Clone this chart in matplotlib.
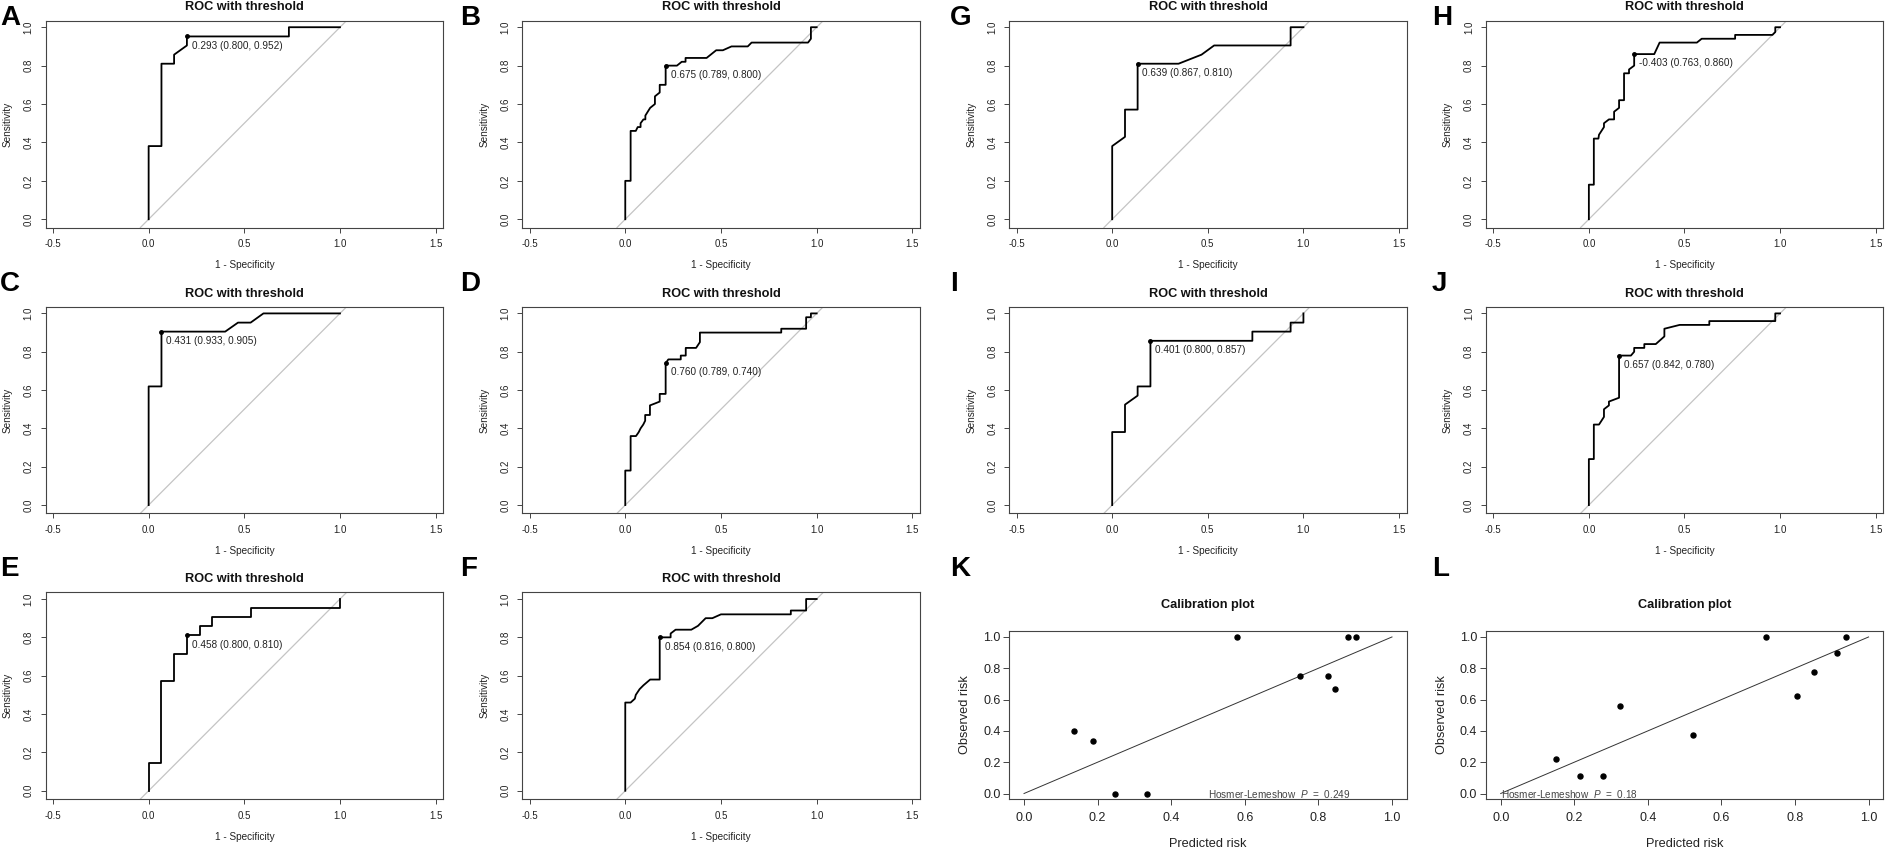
import numpy as np
import matplotlib.pyplot as plt

plt.rcParams['font.family'] = ['Liberation Sans', 'DejaVu Sans']
plt.rcParams['mathtext.fontset'] = 'custom'
plt.rcParams['mathtext.rm'] = 'Liberation Sans'
plt.rcParams['mathtext.it'] = 'Liberation Sans:italic'

# ROC curves: 1 - specificity (x) and sensitivity (y) vertices
fpr_A = [0, 0, 0.067, 0.067, 0.133, 0.133, 0.2, 0.2, 0.733, 0.733, 1.0]
tpr_A = [0, 0.381, 0.381, 0.810, 0.810, 0.857, 0.905, 0.952, 0.952, 1.0, 1.0]

fpr_B = [0, 0, 0.028, 0.028, 0.055, 0.065, 0.08, 0.08, 0.095, 0.105, 0.105, 0.13, 0.155, 0.155,
         0.18, 0.18, 0.211, 0.211, 0.27, 0.295, 0.315, 0.315, 0.425, 0.475, 0.51, 0.555, 0.64,
         0.66, 0.955, 0.97, 0.97, 1.0]
tpr_B = [0, 0.2, 0.2, 0.46, 0.46, 0.48, 0.48, 0.50, 0.52, 0.52, 0.54, 0.58, 0.60, 0.64,
         0.66, 0.70, 0.70, 0.80, 0.80, 0.82, 0.82, 0.84, 0.84, 0.88, 0.88, 0.90, 0.90,
         0.92, 0.92, 0.94, 1.0, 1.0]

fpr_G = [0, 0, 0.067, 0.067, 0.133, 0.133, 0.347, 0.467, 0.533, 0.933, 0.933, 1.0]
tpr_G = [0, 0.381, 0.429, 0.571, 0.571, 0.810, 0.810, 0.857, 0.905, 0.905, 1.0, 1.0]

fpr_H = [0, 0, 0.026, 0.026, 0.05, 0.053, 0.079, 0.079, 0.105, 0.132, 0.132, 0.158, 0.158,
         0.184, 0.184, 0.21, 0.21, 0.237, 0.237, 0.342, 0.37, 0.565, 0.59, 0.765, 0.765,
         0.96, 0.975, 0.975, 1.0]
tpr_H = [0, 0.18, 0.18, 0.42, 0.42, 0.44, 0.48, 0.50, 0.52, 0.52, 0.56, 0.58, 0.62,
         0.62, 0.76, 0.76, 0.78, 0.80, 0.86, 0.86, 0.92, 0.92, 0.94, 0.94, 0.96,
         0.96, 0.975, 1.0, 1.0]

fpr_C = [0, 0, 0.067, 0.067, 0.4, 0.467, 0.533, 0.6, 1.0]
tpr_C = [0, 0.619, 0.619, 0.905, 0.905, 0.952, 0.952, 1.0, 1.0]

fpr_D = [0, 0, 0.028, 0.028, 0.056, 0.07, 0.08, 0.094, 0.104, 0.104, 0.129, 0.129, 0.155,
         0.18, 0.18, 0.211, 0.211, 0.225, 0.29, 0.29, 0.316, 0.316, 0.37, 0.39, 0.39,
         0.815, 0.815, 0.945, 0.945, 0.97, 0.97, 1.0]
tpr_D = [0, 0.18, 0.18, 0.36, 0.36, 0.38, 0.40, 0.42, 0.44, 0.47, 0.47, 0.52, 0.53,
         0.54, 0.58, 0.58, 0.74, 0.76, 0.76, 0.78, 0.78, 0.82, 0.82, 0.85, 0.90,
         0.90, 0.92, 0.92, 0.98, 0.98, 1.0, 1.0]

fpr_I = [0, 0, 0.067, 0.067, 0.133, 0.133, 0.2, 0.2, 0.733, 0.733, 0.933, 0.933, 1.0, 1.0]
tpr_I = [0, 0.381, 0.381, 0.524, 0.571, 0.619, 0.619, 0.857, 0.857, 0.905, 0.905, 0.952, 0.952, 1.0]

fpr_J = [0, 0, 0.026, 0.026, 0.053, 0.079, 0.079, 0.105, 0.105, 0.158, 0.158, 0.22, 0.237,
         0.237, 0.29, 0.29, 0.35, 0.395, 0.395, 0.475, 0.63, 0.63, 0.975, 0.975, 1.0]
tpr_J = [0, 0.24, 0.24, 0.42, 0.42, 0.46, 0.50, 0.52, 0.54, 0.56, 0.78, 0.78, 0.80,
         0.82, 0.82, 0.84, 0.84, 0.88, 0.92, 0.94, 0.94, 0.96, 0.96, 1.0, 1.0]

fpr_E = [0, 0, 0.067, 0.067, 0.133, 0.133, 0.2, 0.2, 0.267, 0.267, 0.333, 0.333, 0.533, 0.533, 1.0, 1.0]
tpr_E = [0, 0.143, 0.143, 0.571, 0.571, 0.714, 0.714, 0.810, 0.810, 0.857, 0.857, 0.905, 0.905, 0.952, 0.952, 1.0]

fpr_F = [0, 0, 0.028, 0.05, 0.055, 0.075, 0.095, 0.13, 0.18, 0.18, 0.237, 0.237, 0.263,
         0.345, 0.38, 0.42, 0.455, 0.5, 0.865, 0.865, 0.945, 0.945, 1.0]
tpr_F = [0, 0.46, 0.46, 0.48, 0.50, 0.53, 0.55, 0.58, 0.58, 0.80, 0.80, 0.82, 0.84,
         0.84, 0.86, 0.90, 0.90, 0.92, 0.92, 0.94, 0.94, 1.0, 1.0]

# best thresholds: (1 - specificity, sensitivity) and label
best_pts = {
    'A': (0.200, 0.952), 'B': (0.211, 0.800), 'G': (0.133, 0.810), 'H': (0.237, 0.860),
    'C': (0.067, 0.905), 'D': (0.211, 0.740), 'I': (0.200, 0.857), 'J': (0.158, 0.780),
    'E': (0.200, 0.810), 'F': (0.184, 0.800),
}
best_labels = {
    'A': '0.293 (0.800, 0.952)', 'B': '0.675 (0.789, 0.800)', 'G': '0.639 (0.867, 0.810)',
    'H': '-0.403 (0.763, 0.860)', 'C': '0.431 (0.933, 0.905)', 'D': '0.760 (0.789, 0.740)',
    'I': '0.401 (0.800, 0.857)', 'J': '0.657 (0.842, 0.780)', 'E': '0.458 (0.800, 0.810)',
    'F': '0.854 (0.816, 0.800)',
}

# calibration groups
pred_K = [0.137, 0.188, 0.248, 0.334, 0.580, 0.751, 0.825, 0.845, 0.881, 0.902]
obs_K = [0.400, 0.333, 0.0, 0.0, 1.0, 0.750, 0.750, 0.667, 1.0, 1.0]
pred_L = [0.149, 0.215, 0.278, 0.325, 0.522, 0.722, 0.805, 0.852, 0.915, 0.938]
obs_L = [0.222, 0.111, 0.111, 0.556, 0.375, 1.0, 0.625, 0.778, 0.900, 1.0]
hl_K = 'Hosmer-Lemeshow  $\\mathit{P}$  =  0.249'
hl_L = 'Hosmer-Lemeshow  $\\mathit{P}$  =  0.18'

W, H = 1888, 851
fig = plt.figure(figsize=(W / 100, H / 100), dpi=100)

cols = [(45.7, 443.3), (522.3, 920), (1009.3, 1406.7), (1486, 1883.3)]
rows = [(20.5, 227.5), (306.7, 513.3), (592.3, 799)]


def add_ax(l, t, r, b):
    return fig.add_axes([l / W, 1 - b / H, (r - l) / W, (b - t) / H])


def style_box(ax):
    for s in ax.spines.values():
        s.set_color('#444444')
        s.set_linewidth(0.8)


roc_layout = [('A', 0, 0, fpr_A, tpr_A), ('B', 0, 1, fpr_B, tpr_B), ('G', 0, 2, fpr_G, tpr_G),
              ('H', 0, 3, fpr_H, tpr_H), ('C', 1, 0, fpr_C, tpr_C), ('D', 1, 1, fpr_D, tpr_D),
              ('I', 1, 2, fpr_I, tpr_I), ('J', 1, 3, fpr_J, tpr_J), ('E', 2, 0, fpr_E, tpr_E),
              ('F', 2, 1, fpr_F, tpr_F)]

for key, r, c, fpr, tpr in roc_layout:
    l, rr = cols[c]
    t, b = rows[r]
    ax = add_ax(l, t, rr, b)
    h = b - t
    w = rr - l
    ax.axline((0, 0), (1, 1), color='#c4c4c4', lw=0.9, zorder=1)
    ax.plot(fpr, tpr, color='black', lw=1.3, zorder=3)
    pt = best_pts[key]
    ax.plot(pt[0], pt[1], 'o', ms=2.5, color='black', zorder=4)
    ax.annotate(best_labels[key], xy=pt, xytext=(3.5, -3), textcoords='offset points',
                ha='left', va='top', fontsize=7.2, color='#222222')
    ax.set_xlim(-0.538, 1.54)
    ax.set_ylim(-0.043, 1.035)
    ax.set_xticks([-0.5, 0, 0.5, 1.0, 1.5])
    ax.set_xticklabels(['-0.5', '0.0', '0.5', '1.0', '1.5'])
    ax.set_yticks([0, 0.2, 0.4, 0.6, 0.8, 1.0])
    ax.set_yticklabels(['0.0', '0.2', '0.4', '0.6', '0.8', '1.0'], rotation=90, va='center')
    ax.tick_params(direction='out', length=3.6, width=0.7, labelsize=7, pad=5,
                   colors='#444444', labelcolor='#222222')
    style_box(ax)
    ax.text(0.5, 1 + 13 / h, 'ROC with threshold', transform=ax.transAxes,
            ha='center', va='center', fontsize=9.2, fontweight='bold', color='#111111')
    ax.text(0.5, -38 / h, '1 - Specificity', transform=ax.transAxes,
            ha='center', va='center', fontsize=7.2, color='#222222')
    ax.text(-38 / w, 0.5, 'Sensitivity', transform=ax.transAxes, rotation=90,
            ha='center', va='center', fontsize=7.2, color='#222222')

cal_layout = [(2, pred_K, obs_K, hl_K, 0.5), (3, pred_L, obs_L, hl_L, 0.0)]
for c, pred, obs, hl, hx in cal_layout:
    l, rr = cols[c]
    t, b = 630.7, 799.3
    ax = add_ax(l, t, rr, b)
    h = b - t
    w = rr - l
    ax.plot([0, 1], [0, 1], color='#333333', lw=0.7)
    ax.plot(pred, obs, 'o', ms=3.6, color='black')
    ax.set_xlim(-0.04, 1.04)
    ax.set_ylim(-0.037, 1.04)
    ticks = [0, 0.2, 0.4, 0.6, 0.8, 1.0]
    tl = ['0.0', '0.2', '0.4', '0.6', '0.8', '1.0']
    ax.set_xticks(ticks)
    ax.set_xticklabels(tl)
    ax.set_yticks(ticks)
    ax.set_yticklabels(tl)
    ax.tick_params(direction='out', length=4.3, width=0.7, labelsize=9,
                   colors='#444444', labelcolor='#222222')
    ax.tick_params(axis='x', pad=4.5)
    ax.tick_params(axis='y', pad=2)
    style_box(ax)
    ax.text(hx, -0.006, hl, ha='left', va='center', fontsize=7.2, color='#444444')
    ax.text(0.5, 1 + 25.7 / h, 'Calibration plot', transform=ax.transAxes,
            ha='center', va='center', fontsize=9.2, fontweight='bold', color='#111111')
    ax.text(0.5, -44.7 / h, 'Predicted risk', transform=ax.transAxes,
            ha='center', va='center', fontsize=9.2, color='#222222')
    ax.text(-44.3 / w, 0.5, 'Observed risk', transform=ax.transAxes, rotation=90,
            ha='center', va='center', fontsize=9.2, color='#222222')

# panel letters
letters = [('A', 0, 25), ('B', 460, 25), ('G', 950, 25), ('H', 1432, 25),
           ('C', 0, 291), ('D', 460, 291), ('I', 950, 291), ('J', 1432, 291),
           ('E', 0, 576), ('F', 460, 576), ('K', 950, 576), ('L', 1432, 576)]
for txt, x, y in letters:
    fig.text(x / W, 1 - y / H, txt, ha='left', va='baseline', fontsize=20,
             fontweight='bold', color='black')

fig.savefig('out.png', dpi=100)
